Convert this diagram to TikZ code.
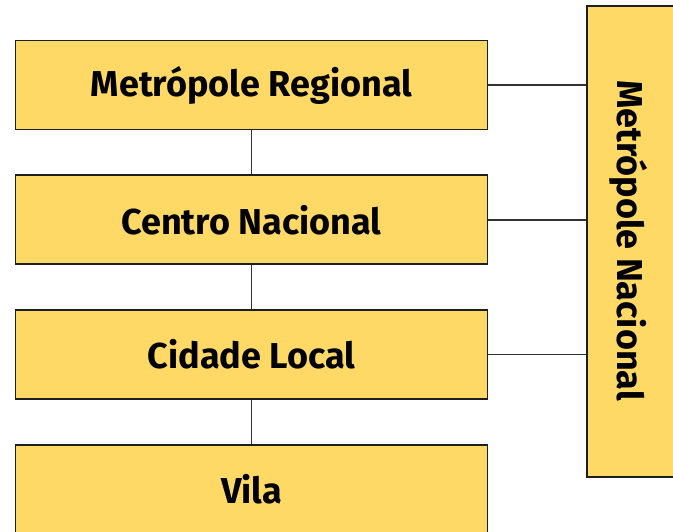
\documentclass[tikz,border=0pt]{standalone}
\usepackage{fontspec}
\setmainfont{Fira Sans}
\usetikzlibrary{positioning}
\definecolor{Gold}{HTML}{FFD966}
\definecolor{Edge}{HTML}{1E1E1E}
\definecolor{Wire}{HTML}{333333}

\begin{document}
\begin{tikzpicture}[
  x=1pt,y=-1pt,node distance=44pt,
  level/.style={draw=Edge,line width=1.8pt,fill=Gold,minimum width=472pt,minimum height=89pt,inner sep=0pt,font=\bfseries\fontsize{36}{42}\selectfont},
  wire/.style={draw=Wire,line width=1.5pt}
]
  \useasboundingbox (0,0) rectangle (673,531);
  \node[level] (metro) at (251.5,85) {Metrópole Regional};
  \node[level,below=of metro] (centro) {Centro Nacional};
  \node[level,below=of centro] (cidade) {Cidade Local};
  \node[level,below=of cidade] (vila) {Vila};
  \node[level,minimum width=96pt,minimum height=471pt,anchor=north west] (nacional) at (586,5) {};
  \node[font=\bfseries\fontsize{36}{42}\selectfont,rotate=-90] (nactext) at (628.5,240.5) {Metrópole Nacional};
  % ligações
  \draw[wire] (metro) -- (centro);
  \draw[wire] (centro) -- (cidade);
  \draw[wire] (cidade) -- (vila);
  \draw[wire] (metro.east) -- (metro.east -| nacional.west);
  \draw[wire] (centro.east) -- (centro.east -| nacional.west);
  \draw[wire] (cidade.east) -- (cidade.east -| nacional.west);
\end{tikzpicture}
\end{document}
